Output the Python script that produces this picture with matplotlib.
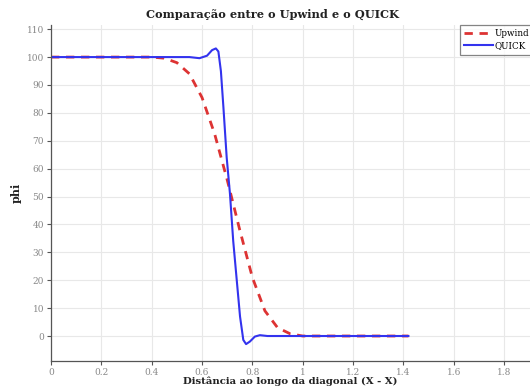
import matplotlib.pyplot as plt
import numpy as np

# data
x_upwind = [0, 0.40, 0.45, 0.50, 0.55, 0.60, 0.65, 0.70, 0.75, 0.80, 0.85, 0.90, 0.95, 1.00, 1.42]
phi_upwind = [100, 100, 99.6, 98, 94, 85.5, 72.5, 56, 38, 21, 9, 3, 0.8, 0, 0]

x_quick = [0, 0.55, 0.59, 0.62, 0.64, 0.655, 0.665, 0.675, 0.685, 0.698, 0.711, 0.724,
           0.738, 0.751, 0.764, 0.775, 0.79, 0.81, 0.83, 0.86, 1.42]
phi_quick = [100, 100, 99.6, 100.5, 102.5, 103.1, 102, 95, 82, 64, 51, 34,
             20, 7, -1.4, -2.9, -2, -0.2, 0.3, 0, 0]

xticks = [0, 0.2, 0.4, 0.6, 0.8, 1, 1.2, 1.4, 1.6, 1.8]
xtick_labels = ['0', '0.2', '0.4', '0.6', '0.8', '1', '1.2', '1.4', '1.6', '1.8']
yticks = list(range(0, 111, 10))

plt.rcParams['font.family'] = ['DejaVu Serif']

fig = plt.figure(figsize=(5.3, 3.89), dpi=100)
ax = fig.add_axes([51/530, 28/389, 503.4/530, 336/389])

ax.plot(x_upwind, phi_upwind, color='#dd3333', lw=2, ls=(0, (3, 2.4)), label='Upwind')
ax.plot(x_quick, phi_quick, color='#3333ee', lw=1.5, label='QUICK')

ax.set_xlim(0, 2)
ax.set_ylim(-8.96, 111.5)
ax.set_xticks(xticks)
ax.set_xticklabels(xtick_labels)
ax.set_yticks(yticks)
ax.grid(True, color='#e8e8e8', lw=0.8)
ax.set_axisbelow(True)

for s in ['top', 'right']:
    ax.spines[s].set_visible(False)
for s in ['left', 'bottom']:
    ax.spines[s].set_color('#555555')
    ax.spines[s].set_linewidth(0.9)
ax.tick_params(labelsize=6.5, colors='#555555', labelcolor='#888888', length=3, width=0.8, pad=2)

ax.set_xlabel('Distância ao longo da diagonal (X - X)', fontsize=7.3, fontweight='bold',
              color='#222222', va='center')
ax.xaxis.set_label_coords((290 - 51)/503.4, -(381 - 361)/336)
ax.set_ylabel('phi', fontsize=8, fontweight='bold', labelpad=4, color='#222222')
fig.text(273/530, 1 - 14/389, 'Comparação entre o Upwind e o QUICK', ha='center', va='center',
         fontsize=8.2, fontweight='bold', color='#222222')

leg = ax.legend(loc='upper left', bbox_to_anchor=(460/530, 1 - 25/389), bbox_transform=fig.transFigure,
                fontsize=6.3, frameon=True, fancybox=False, handlelength=3.3, handletextpad=0.1,
                borderpad=0.5, labelspacing=0.35, borderaxespad=0)
leg.get_frame().set_edgecolor('#666666')
leg.get_frame().set_linewidth(0.9)

fig.savefig('out.png', dpi=100)
